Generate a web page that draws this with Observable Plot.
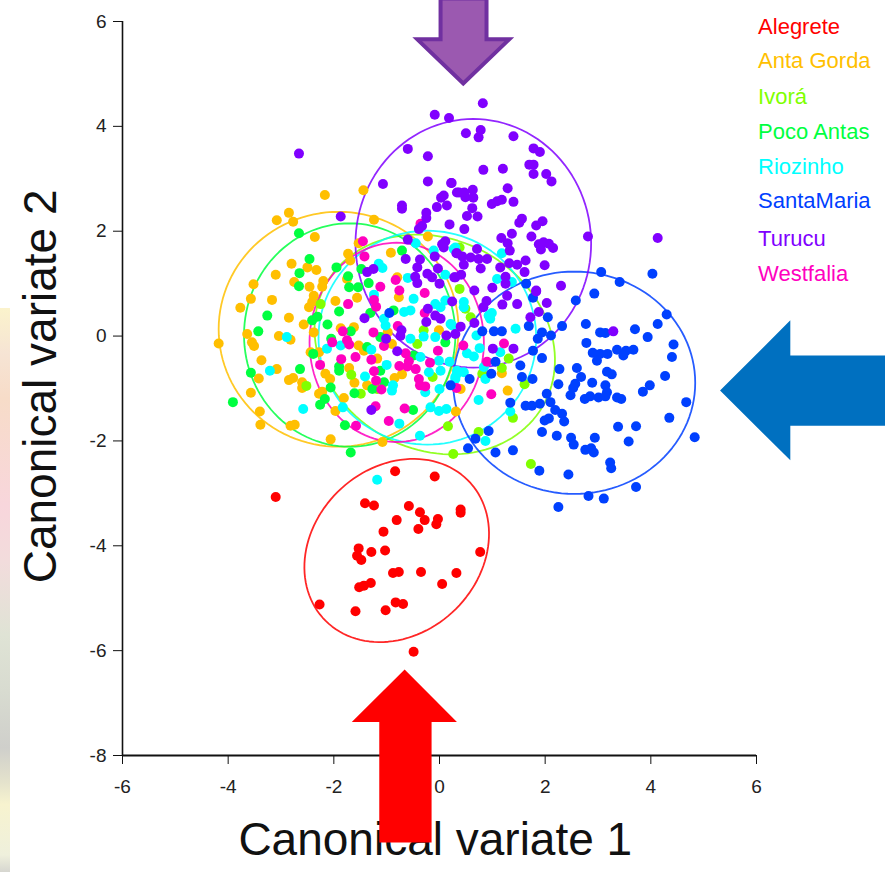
<!DOCTYPE html>
<html><head><meta charset="utf-8">
<script src="https://cdn.jsdelivr.net/npm/d3@7"></script>
<script src="https://cdn.jsdelivr.net/npm/@observablehq/plot@0.6"></script>
<style>
html,body{margin:0;padding:0;background:#fff;overflow:hidden}
#wrap{position:relative;width:885px;height:872px}
#strip{position:absolute;left:0;top:308px;width:10px;height:564px;background:linear-gradient(to bottom,#fbf3cc 0%,#f6e4d4 8%,#f7dcc8 16%,#f8d6dc 35%,#f2dcdc 45%,#dfe3d5 58%,#d8dbd0 68%,#cfcfcb 78%,#e4e2cc 84%,#f7f3cf 88%,#eff0dc 97%,#d6d6d0 100%)}
svg{display:block}
</style></head><body><div id="wrap"><div id="plot"></div><div id="strip"></div></div>
<script>
const alegrete=[[-0.84,-2.58],[-0.09,-2.68],[-3.10,-3.07],[-1.41,-3.19],[-1.24,-3.23],[-0.58,-3.24],[0.40,-3.31],[0.40,-3.37],[-0.37,-3.36],[-0.28,-3.51],[-0.81,-3.51],[-0.03,-3.49],[-0.06,-3.59],[-0.40,-3.68],[-1.06,-3.73],[-1.53,-4.05],[-1.56,-4.19],[-1.48,-4.27],[-1.29,-4.12],[-1.03,-4.09],[0.77,-4.12],[-0.77,-4.50],[-0.88,-4.52],[-0.35,-4.50],[0.32,-4.52],[0.05,-4.73],[-1.30,-4.71],[-1.43,-4.76],[-1.52,-4.79],[-2.27,-5.12],[-1.59,-5.25],[-1.02,-5.23],[-0.83,-5.08],[-0.69,-5.11],[-0.49,-6.02]];
const antaGorda=[[-2.17,2.69],[-1.44,2.78],[-2.85,2.35],[-3.08,2.21],[-2.77,2.18],[-1.24,2.22],[-2.36,1.89],[-0.22,1.90],[-1.53,1.77],[-0.92,1.59],[-1.73,1.57],[-1.69,1.44],[-2.80,1.38],[-3.10,1.17],[-2.50,1.31],[-2.33,1.26],[-2.75,1.03],[-3.52,0.99],[-2.2,1.05],[-2.46,0.94],[-2.22,0.94],[-1.75,1.09],[-0.80,1.12],[-3.57,0.71],[-3.17,0.69],[-3.77,0.54],[-2.38,0.77],[-2.41,0.65],[-2.47,0.55],[-1.97,0.67],[-1.56,0.73],[-0.77,0.74],[-2.85,0.35],[-2.57,0.22],[-2.38,0.07],[-3.64,0.04],[-3.04,0.00],[-2.82,-0.07],[-3.55,-0.12],[-3.51,-0.19],[-4.18,-0.14],[-1.87,0.15],[-1.62,0.17],[-0.98,0.07],[-1.53,-0.18],[-1.43,-0.28],[-0.90,-0.15],[-2.44,-0.31],[-2.28,-0.31],[-1.18,-0.43],[-3.37,-0.46],[-3.08,-0.63],[-1.71,-0.61],[-2.16,-0.72],[-2.07,-0.82],[-2.85,-0.84],[-2.77,-0.80],[-3.42,-0.81],[-2.60,-0.88],[-2.60,-0.99],[-0.85,-0.80],[-0.71,-0.73],[-1.61,-0.89],[-1.37,-0.94],[-3.57,-1.08],[-2.22,-1.06],[-2.28,-1.10],[-1.81,-1.18],[-3.40,-1.44],[-1.97,-1.43],[0.31,-1.44],[-3.39,-1.69],[-2.82,-1.71],[-2.74,-1.69],[-2.06,-1.97],[-1.08,-2.02],[-0.01,0.11],[1.18,-0.71],[1.29,-1.04],[0.40,-1.01]];
const ivora=[[-2.25,0.61],[-2.52,-0.95],[-1.67,-0.74],[-1.49,-1.10],[0.16,-1.72],[0.26,-2.25],[-0.42,-0.15],[-0.30,0.11],[-0.13,-0.78],[-1.18,-1.01],[0.38,1.69],[0.38,0.90],[0.49,0.52],[0.59,0.36],[1.31,-0.43],[1.18,-0.61],[0.81,-0.72],[1.61,-0.92],[1.39,-1.56],[0.74,-1.83],[1.73,-2.44]];
const pocoAntas=[[-2.66,1.96],[-2.46,1.47],[-2.65,1.20],[-1.95,1.31],[-1.73,1.14],[-2.66,0.95],[-1.71,0.93],[-1.54,0.93],[-1.34,1.01],[-0.71,1.63],[-1.48,1.28],[-3.26,0.39],[-3.43,0.09],[-1.90,0.47],[-2.31,0.37],[-2.41,0.30],[-2.12,0.22],[-1.68,0.09],[-2.05,-0.05],[-2.39,-0.34],[-1.37,-0.21],[-1.90,-0.58],[-1.90,-0.66],[-2.64,-0.63],[-3.57,-0.70],[-2.06,-0.98],[-1.61,-1.09],[-2.17,-1.20],[-2.26,-1.31],[-3.91,-1.26],[-1.79,-1.70],[-1.68,-2.22],[-0.50,-1.41],[-1.05,-0.88],[-1.27,-1.01],[-1.12,-0.66],[-0.87,0.49],[-0.49,-0.37],[0.11,-0.12],[-1.31,0.44],[-1.12,-0.02]];
const riozinho=[[-1.18,-2.74],[-0.45,1.77],[-1.15,1.38],[-1.08,1.30],[-0.11,1.63],[-0.60,1.11],[0.11,1.17],[0.27,1.66],[-2.89,-0.02],[-3.21,-0.66],[-2.58,-1.39],[-1.83,-1.36],[-2.13,-0.24],[-1.87,-0.18],[-1.29,-0.26],[-1.0,-0.55],[-1.41,-0.77],[-0.88,-0.94],[-0.90,-1.04],[-1.24,0.79],[-1.05,0.33],[-1.02,0.20],[-0.55,-0.05],[-0.49,0.71],[-0.55,0.49],[-0.67,0.46],[-0.08,0.61],[0.11,0.68],[0.02,0.55],[0.21,0.23],[-0.08,-0.02],[-0.30,-0.01],[-0.36,-0.40],[-0.01,-0.47],[0.19,-0.49],[0.02,-0.66],[-0.20,-0.69],[0.33,-0.72],[0.30,-0.82],[0.0,-1.01],[-0.27,-1.07],[-0.17,-1.36],[-0.01,-1.43],[0.13,-1.39],[-0.76,-1.67],[-0.37,-1.90],[0.46,0.65],[0.46,0.55],[0.99,0.44],[0.93,0.39],[0.96,0.33],[1.44,0.14],[0.70,0.01],[0.76,-0.23],[0.52,-0.33],[0.65,-0.39],[1.15,-0.31],[0.84,-0.59],[0.87,-0.82],[0.46,-0.69],[0.33,-0.66],[0.30,-0.78],[0.74,-1.22],[1.34,-1.44],[0.87,-2.0],[0.24,0.20],[0.30,1.69],[1.18,1.58],[1.09,1.09],[1.37,1.03]];
const westfalia=[[-1.45,1.81],[-1.42,1.52],[-1.12,0.94],[-0.83,1.07],[-0.76,0.87],[-0.36,2.14],[-0.28,0.82],[-1.24,0.69],[-1.20,0.56],[-1.73,0.61],[-0.28,0.44],[-0.79,0.19],[-1.25,0.07],[-1.83,0.09],[-2.03,-0.12],[-1.75,-0.08],[-1.71,-0.16],[-1.05,-0.19],[-1.86,-0.44],[-1.59,-0.40],[-1.29,-0.45],[-2.26,-0.55],[-0.64,-0.33],[-0.03,-0.28],[-0.58,-0.48],[-0.76,-0.57],[-0.61,-0.58],[-0.45,-0.63],[-0.18,-0.51],[-1.24,-0.67],[-1.20,-0.85],[-1.10,-1.02],[-0.39,-0.82],[-0.37,-0.94],[-0.27,-0.96],[0.32,-0.99],[-1.21,-1.34],[-0.66,-1.38],[-1.58,-1.71],[-0.96,-1.62],[0.45,-0.18],[1.22,-0.14],[0.90,-0.49],[0.98,-1.11]];
const santaMaria=[[-0.95,0.44],[0.21,-0.94],[1.64,1.0],[3.06,1.22],[3.41,1.03],[4.03,1.19],[2.93,0.81],[2.58,0.68],[1.77,0.73],[4.30,0.41],[4.13,0.23],[2.05,0.36],[2.77,0.23],[2.32,0.19],[1.69,0.19],[3.70,0.13],[0.81,0.09],[1.03,0.09],[1.18,0.09],[3.04,0.07],[3.14,0.06],[3.94,-0.02],[1.94,0.07],[2.11,0.01],[1.86,-0.05],[2.78,-0.13],[4.43,-0.16],[1.77,-0.28],[1.94,-0.42],[2.90,-0.32],[3.04,-0.34],[3.18,-0.34],[2.98,-0.47],[3.36,-0.26],[3.53,-0.28],[3.48,-0.37],[3.67,-0.26],[4.40,-0.40],[1.06,-0.49],[0.98,-0.72],[0.57,-0.82],[1.53,-0.56],[1.56,-0.78],[1.76,-0.82],[2.27,-0.63],[2.60,-0.61],[3.17,-0.68],[3.26,-0.73],[2.68,-0.78],[4.27,-0.76],[2.25,-0.92],[2.89,-0.89],[2.57,-0.91],[2.53,-0.99],[2.48,-1.13],[3.14,-0.94],[3.98,-0.94],[3.85,-1.06],[2.03,-1.10],[3.17,-1.07],[3.01,-1.17],[2.85,-1.15],[2.75,-1.20],[3.14,-1.15],[3.36,-1.17],[3.44,-1.20],[2.10,-1.26],[1.90,-1.29],[1.75,-1.33],[1.63,-1.33],[1.34,-1.27],[4.67,-1.26],[2.19,-1.41],[2.32,-1.48],[4.35,-1.56],[2.07,-1.57],[1.99,-1.61],[2.36,-1.63],[3.38,-1.73],[3.72,-1.72],[1.94,-1.83],[0.93,-1.81],[2.22,-1.90],[2.49,-1.94],[2.94,-1.94],[0.68,-1.96],[4.83,-1.93],[3.58,-2.01],[2.54,-2.07],[0.54,-2.14],[1.06,-2.22],[1.39,-2.18],[2.76,-2.17],[2.87,-2.14],[2.92,-2.22],[3.23,-2.41],[3.25,-2.52],[1.89,-2.57],[2.44,-2.64],[3.72,-2.88],[2.82,-3.05],[3.11,-3.10],[2.25,-3.26]];
const turucu=[[-0.09,4.22],[0.18,4.16],[-0.60,3.57],[-0.22,3.43],[-2.66,3.48],[-1.07,2.90],[-0.22,2.95],[0.22,2.92],[0.33,2.74],[0.08,2.68],[0.03,2.64],[-0.05,2.46],[0.14,2.49],[-0.71,2.49],[-0.71,2.43],[-0.25,2.35],[-0.25,2.25],[-0.39,2.04],[-0.33,2.10],[0.19,2.13],[-1.87,2.28],[-0.60,1.84],[0.11,1.81],[0.05,1.75],[0.08,1.69],[0.32,1.58],[-0.09,1.52],[-0.64,1.47],[-0.37,1.46],[-0.42,1.31],[-0.03,1.29],[-1.37,1.22],[-1.25,1.28],[-0.23,1.19],[-0.14,1.12],[-0.46,1.13],[-0.42,1.01],[0.0,1.0],[0.30,1.12],[0.82,4.44],[0.78,3.93],[0.50,3.87],[0.74,3.79],[1.40,3.81],[1.78,3.58],[1.90,3.51],[1.70,3.27],[1.78,3.27],[1.78,3.09],[2.02,3.09],[2.12,2.95],[0.83,3.17],[1.20,3.19],[0.23,2.92],[1.29,2.82],[0.37,2.74],[0.47,2.74],[0.63,2.79],[0.49,2.65],[0.64,2.64],[0.99,2.52],[1.09,2.57],[1.18,2.60],[1.40,2.56],[0.62,2.44],[0.52,2.29],[0.72,2.28],[1.56,2.24],[1.51,2.16],[1.95,2.19],[1.83,2.11],[0.47,2.04],[1.37,1.95],[1.17,1.87],[1.74,1.90],[2.81,1.90],[4.13,1.87],[1.29,1.77],[1.97,1.79],[1.88,1.75],[2.07,1.76],[1.92,1.65],[2.15,1.68],[1.33,1.63],[0.71,1.66],[0.33,1.58],[0.43,1.52],[0.59,1.50],[0.74,1.47],[0.90,1.47],[0.46,1.36],[0.78,1.29],[1.15,1.31],[1.32,1.39],[1.47,1.36],[1.63,1.44],[1.61,1.22],[1.99,1.35],[1.25,1.13],[1.25,1.0],[0.41,1.17],[0.28,1.12],[2.30,0.96],[0.66,0.87],[1.0,0.92],[1.83,0.87],[1.28,0.77],[1.83,0.85],[0.24,0.66],[1.19,0.60],[1.47,0.61],[0.89,0.67],[0.83,0.55],[2.03,0.63],[1.88,0.46],[1.72,0.36],[0.66,0.25],[0.40,0.18],[0.30,0.04],[3.29,0.09],[1.01,-0.24],[1.40,-0.24],[-0.22,0.52],[-0.08,0.39],[0.02,0.33],[-0.25,0.27],[-1.42,0.34],[-0.72,0.11],[-0.74,0.0],[0.13,0.01],[-1.01,-0.05],[-0.80,-0.29],[-1.29,-1.41]];

const names=["Alegrete","Anta Gorda","Ivorá","Poco Antas","Riozinho","SantaMaria","Turucu","Westfalia"];
const colors=["#ff0000","#ffbf00","#80ff00","#00ff40","#00ffff","#0040ff","#8000ff","#ff00bf"];
// ellipse parameters: centre x, centre y, semi-axis a, semi-axis b, rotation in degrees
const ellipseParams=[[-0.81,-4.09,1.90,1.58,45],[-1.91,0.13,2.27,2.24,0],[-0.09,-0.16,2.36,2.0,-30],[-1.70,0.02,2.0,2.13,0],[-0.23,-0.03,2.06,2.04,0],[2.55,-0.89,2.29,2.12,0],[0.64,1.77,2.23,2.37,0],[-0.81,-0.12,1.65,1.9,0]];
const legendX=6.03;
const legendY=[5.90,5.24,4.57,3.90,3.23,2.57,1.86,1.19];
const xTicks=[-6,-4,-2,0,2,4,6];
const yTicks=[-8,-6,-4,-2,0,2,4,6];
const arrowPurple=[[0.02,6.44],[0.02,5.66],[-0.42,5.66],[0.45,4.82],[1.32,5.66],[0.89,5.66],[0.89,6.44],[0.02,6.44]];
const arrowBlue=[[5.31,-1.04],[6.64,0.30],[6.64,-0.37],[8.45,-0.37],[8.45,-1.71],[6.64,-1.71],[6.64,-2.37]];
const arrowRed=[[-0.66,-6.36],[-1.66,-7.36],[-1.14,-7.36],[-1.14,-9.66],[-0.15,-9.66],[-0.15,-7.36],[0.33,-7.36]];

const ellipseTable=ellipseParams.flatMap(([cx,cy,a,b,rot],i)=>{
  const r=rot*Math.PI/180;
  return d3.range(0,361,3).map(t=>{const u=t*Math.PI/180;return {
    s:names[i],
    x:cx+a*Math.cos(u)*Math.cos(r)-b*Math.sin(u)*Math.sin(r),
    y:cy+a*Math.cos(u)*Math.sin(r)+b*Math.sin(u)*Math.cos(r)};});
});
const drawOrder=[[alegrete,0],[antaGorda,1],[ivora,2],[pocoAntas,3],[riozinho,4],[westfalia,7],[santaMaria,5],[turucu,6]];
const px=d=>d[0],py=d=>d[1];
const font='"Liberation Sans",Arial,sans-serif';

const plot=Plot.plot({
  width:885,height:872,marginLeft:122,marginRight:129,marginTop:21,marginBottom:117,
  style:{background:"#fff",fontFamily:font},
  x:{domain:[-6,6]},y:{domain:[-8,6]},
  color:{domain:names,range:colors},
  marks:[
    Plot.line(ellipseTable,{x:"x",y:"y",z:"s",stroke:"s",strokeWidth:1.8,strokeOpacity:0.85}),
    ...drawOrder.map(([arr,i])=>Plot.dot(arr,{x:px,y:py,r:5,fill:colors[i],stroke:"none"})),
    Plot.ruleX([-6],{y1:-8,y2:6,stroke:"#111",strokeWidth:1.6}),
    Plot.ruleY([-8],{x1:-6,x2:6,stroke:"#111",strokeWidth:2}),
    Plot.axisX({ticks:xTicks,tickSize:9,tickPadding:15,tickFormat:d=>String(d),label:null,fontSize:19,fontFamily:'"Liberation Sans Narrow","Liberation Sans",sans-serif',stroke:"#111",fill:"#222"}),
    Plot.axisY({ticks:yTicks,tickSize:9,tickPadding:7,tickFormat:d=>String(d),label:null,fontSize:19,fontFamily:'"Liberation Sans Narrow","Liberation Sans",sans-serif',stroke:"#111",fill:"#222"}),
    Plot.text(names,{x:()=>legendX,y:(d,i)=>legendY[i],text:d=>d,textAnchor:"start",fill:(d,i)=>colors[i],fontSize:22,ariaLabel:"legend"}),
    Plot.text(["Canonical variate 1"],{x:()=>-0.08,y:()=>-9.62,text:d=>d,fontSize:46,fill:"#111"}),
    Plot.text(["Canonical variate 2"],{x:()=>-7.54,y:()=>-0.96,text:d=>d,rotate:-90,fontSize:46,fill:"#111"}),
    Plot.line(arrowPurple,{x:px,y:py,fill:"#9b59b0",stroke:"#7030a0",strokeWidth:4,curve:"linear",strokeLinejoin:"miter",strokeMiterlimit:4}),
    Plot.line(arrowBlue,{x:px,y:py,fill:"#0070c0",stroke:"none",curve:"linear"}),
    Plot.line(arrowRed,{x:px,y:py,fill:"#ff0000",stroke:"none",curve:"linear"})
  ]
});
d3.select(plot).selectAll('g[aria-label="legend"] text').style("letter-spacing","1.4px");
document.getElementById("plot").appendChild(plot);
</script></body></html>
